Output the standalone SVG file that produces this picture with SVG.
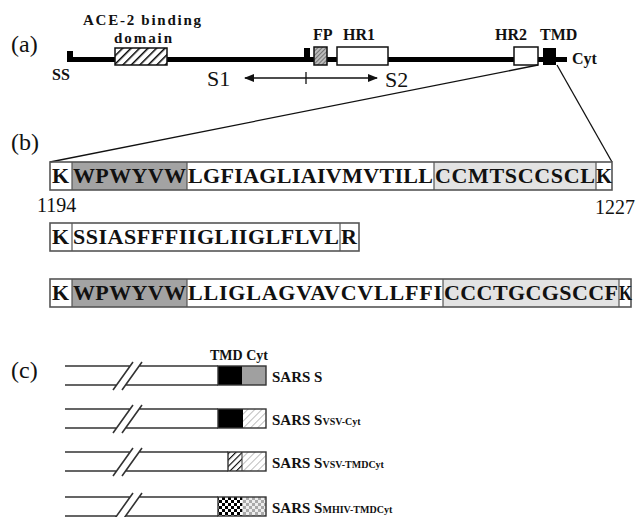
<svg xmlns="http://www.w3.org/2000/svg" width="639" height="517" viewBox="0 0 639 517">
<style>
.lab{font-family:"Liberation Serif","Times New Roman",serif;font-size:24px;fill:#111}
.b{font-family:"Liberation Serif","Times New Roman",serif;font-weight:bold;fill:#111}
.n{font-family:"Liberation Serif","Times New Roman",serif;fill:#111}
.seq{font-family:"Liberation Serif","Times New Roman",serif;font-weight:bold;font-size:22px;fill:#111}
.box{fill:#fff;stroke:#111;stroke-width:1.5}
.seqbox{stroke:#555;stroke-width:1.6}
.div{stroke:#555;stroke-width:1.2}
.stem{stroke:#333;stroke-width:1.6;fill:none}
.conn{stroke:#111;stroke-width:1.3;fill:none}
</style>
<defs>
<pattern id="hBlack" patternUnits="userSpaceOnUse" width="6" height="6" patternTransform="rotate(45)"><rect width="6" height="6" fill="#fff"/><line x1="0" y1="0" x2="0" y2="6" stroke="#000" stroke-width="3"/></pattern>
<pattern id="hFP" patternUnits="userSpaceOnUse" width="3" height="3" patternTransform="rotate(45)"><rect width="3" height="3" fill="#bbb"/><line x1="0" y1="0" x2="0" y2="3" stroke="#444" stroke-width="1.2"/></pattern>
<pattern id="hGray" patternUnits="userSpaceOnUse" width="5" height="5" patternTransform="rotate(45)"><rect width="5" height="5" fill="#fff"/><line x1="0" y1="0" x2="0" y2="5" stroke="#aaa" stroke-width="1.5"/></pattern>
<pattern id="hDense" patternUnits="userSpaceOnUse" width="4.5" height="4.5" patternTransform="rotate(45)"><rect width="4.5" height="4.5" fill="#fff"/><line x1="0" y1="0" x2="0" y2="4.5" stroke="#000" stroke-width="2.2"/></pattern>
<pattern id="chk" patternUnits="userSpaceOnUse" width="6" height="6"><rect width="6" height="6" fill="#fff"/><rect width="3" height="3" fill="#000"/><rect x="3" y="3" width="3" height="3" fill="#000"/></pattern>
<pattern id="chkG" patternUnits="userSpaceOnUse" width="6" height="6"><rect width="6" height="6" fill="#eee"/><rect width="3" height="3" fill="#aaa"/><rect x="3" y="3" width="3" height="3" fill="#aaa"/></pattern>
<marker id="arr" markerWidth="10" markerHeight="8" refX="9" refY="4" orient="auto-start-reverse" markerUnits="userSpaceOnUse"><path d="M0,0 L10,4 L0,8 Z" fill="#111"/></marker>
</defs>

<!-- panel labels -->
<text class="lab" x="11" y="52">(a)</text>
<text class="lab" x="11" y="150">(b)</text>
<text class="lab" x="11" y="378">(c)</text>

<!-- (a) protein map -->
<g id="spike-a">
<rect x="67" y="57" width="500" height="5" fill="#000"/>
<rect x="67" y="51" width="6" height="11" fill="#000"/>
<rect x="304" y="48" width="6" height="12" fill="#000"/>
<text class="b" x="52" y="80" font-size="16">SS</text>
</g>
<g id="ace2">
<rect x="115" y="48" width="52" height="17" fill="url(#hBlack)" stroke="#111" stroke-width="1.5"/>
<text class="b" x="83" y="25" font-size="15" textLength="118">ACE-2 binding</text>
<text class="b" x="114" y="43" font-size="15" textLength="58">domain</text>
</g>
<g id="fp">
<rect x="314" y="47" width="13" height="18" fill="url(#hFP)" stroke="#111" stroke-width="1.5"/>
<text class="b" x="313" y="40" font-size="16">FP</text>
</g>
<g id="hr1">
<rect x="337" y="47" width="51" height="18" class="box"/>
<text class="b" x="343" y="40" font-size="16">HR1</text>
</g>
<g id="hr2">
<rect x="514" y="47" width="24" height="18" class="box"/>
<text class="b" x="495" y="40" font-size="16">HR2</text>
</g>
<g id="tmd">
<rect x="543" y="48" width="13" height="17" fill="#000"/>
<text class="b" x="540" y="40" font-size="16">TMD</text>
</g>
<g id="cyt">
<text class="b" x="572" y="64" font-size="16">Cyt</text>
</g>
<g id="s1s2">
<text class="n" x="207" y="86" font-size="22">S1</text>
<text class="n" x="385" y="87" font-size="22">S2</text>
</g>

<!-- connectors -->
<g id="connectors">
<line class="conn" x1="245" y1="78" x2="377" y2="78" marker-start="url(#arr)" marker-end="url(#arr)"/>
<line class="conn" x1="306" y1="72" x2="306" y2="84"/>
<line class="conn" x1="538" y1="65" x2="50" y2="162"/>
<line class="conn" x1="557" y1="65" x2="612" y2="162"/>
</g>

<!-- (b) sequences -->
<g id="seq1">
<rect x="72" y="162" width="115" height="28" fill="#a3a3a3"/>
<rect x="434" y="162" width="162" height="28" fill="#e3e3e3"/>
<rect x="50" y="162" width="562" height="28" fill="none" class="seqbox"/>
<line class="div" x1="72" y1="162" x2="72" y2="190"/>
<line class="div" x1="187" y1="162" x2="187" y2="190"/>
<line class="div" x1="434" y1="162" x2="434" y2="190"/>
<line class="div" x1="596" y1="162" x2="596" y2="190"/>
<text class="seq" x="52" y="183">K</text>
<text class="seq" x="73" y="183" textLength="113">WPWYVW</text>
<text class="seq" x="188" y="183" textLength="245">LGFIAGLIAIVMVTILL</text>
<text class="seq" x="435" y="183" textLength="160">CCMTSCCSCL</text>
<text class="seq" x="596" y="183" textLength="16" lengthAdjust="spacingAndGlyphs">K</text>
<text class="n" x="37" y="212" font-size="20">1194</text>
<text class="n" x="595" y="214" font-size="20">1227</text>
</g>
<g id="seq2">
<rect x="50" y="223" width="309" height="28" fill="none" class="seqbox"/>
<line class="div" x1="72" y1="223" x2="72" y2="251"/>
<line class="div" x1="340" y1="223" x2="340" y2="251"/>
<text class="seq" x="52" y="244">K</text>
<text class="seq" x="73" y="244" textLength="266">SSIASFFFIIGLIIGLFLVL</text>
<text class="seq" x="341" y="244">R</text>
</g>
<g id="seq3">
<rect x="72" y="279" width="115" height="28" fill="#a3a3a3"/>
<rect x="443" y="279" width="176" height="28" fill="#e3e3e3"/>
<rect x="50" y="279" width="581" height="28" fill="none" class="seqbox"/>
<line class="div" x1="72" y1="279" x2="72" y2="307"/>
<line class="div" x1="187" y1="279" x2="187" y2="307"/>
<line class="div" x1="443" y1="279" x2="443" y2="307"/>
<line class="div" x1="619" y1="279" x2="619" y2="307"/>
<text class="seq" x="52" y="300">K</text>
<text class="seq" x="73" y="300" textLength="113">WPWYVW</text>
<text class="seq" x="188" y="300" textLength="254">LLIGLAGVAVCVLLFFI</text>
<text class="seq" x="444" y="300" textLength="174">CCCTGCGSCCF</text>
<text class="seq" x="619" y="300" textLength="13" lengthAdjust="spacingAndGlyphs">K</text>
</g>

<!-- (c) constructs -->
<text class="b" x="210" y="360" font-size="14">TMD Cyt</text>
<g id="c1" transform="translate(0,366)">
<path class="stem" d="M65,0H130 M139,0H218 M65,19H116.6 M125.6,19H218 M113,24L133,-4 M122,24L142,-4"/>
<rect x="218" y="0" width="24" height="19" fill="#000"/>
<rect x="242" y="0" width="24" height="19" fill="#a0a0a0"/>
<rect x="218" y="0" width="48" height="19" fill="none" stroke="#333" stroke-width="1.4"/>
<text class="b" x="272" y="16" font-size="15">SARS S</text>
</g>
<g id="c2" transform="translate(0,409)">
<path class="stem" d="M65,0H130 M139,0H218 M65,19H116.6 M125.6,19H218 M113,24L133,-4 M122,24L142,-4"/>
<rect x="218" y="0" width="25" height="19" fill="#000"/>
<rect x="243" y="0" width="23" height="19" fill="url(#hGray)"/>
<rect x="218" y="0" width="48" height="19" fill="none" stroke="#333" stroke-width="1.4"/>
<text class="b" x="272" y="16" font-size="15">SARS S<tspan font-size="10">VSV-Cyt</tspan></text>
</g>
<g id="c3" transform="translate(0,452)">
<path class="stem" d="M65,0H130 M139,0H228 M65,19H116.6 M125.6,19H228 M113,24L133,-4 M122,24L142,-4"/>
<rect x="228" y="0" width="14" height="19" fill="url(#hDense)"/>
<rect x="242" y="0" width="24" height="19" fill="url(#hGray)"/>
<rect x="228" y="0" width="38" height="19" fill="none" stroke="#333" stroke-width="1.4"/>
<line x1="242" y1="0" x2="242" y2="19" stroke="#333" stroke-width="1"/>
<text class="b" x="272" y="16" font-size="15">SARS S<tspan font-size="10">VSV-TMDCyt</tspan></text>
</g>
<g id="c4" transform="translate(0,497)">
<path class="stem" d="M65,0H130 M139,0H218 M65,19H116.6 M125.6,19H218 M113,24L133,-4 M122,24L142,-4"/>
<rect x="218" y="0" width="24" height="19" fill="url(#chk)"/>
<rect x="242" y="0" width="24" height="19" fill="url(#chkG)"/>
<rect x="218" y="0" width="48" height="19" fill="none" stroke="#333" stroke-width="1.4"/>
<text class="b" x="272" y="16" font-size="15">SARS S<tspan font-size="10">MHIV-TMDCyt</tspan></text>
</g>
</svg>
